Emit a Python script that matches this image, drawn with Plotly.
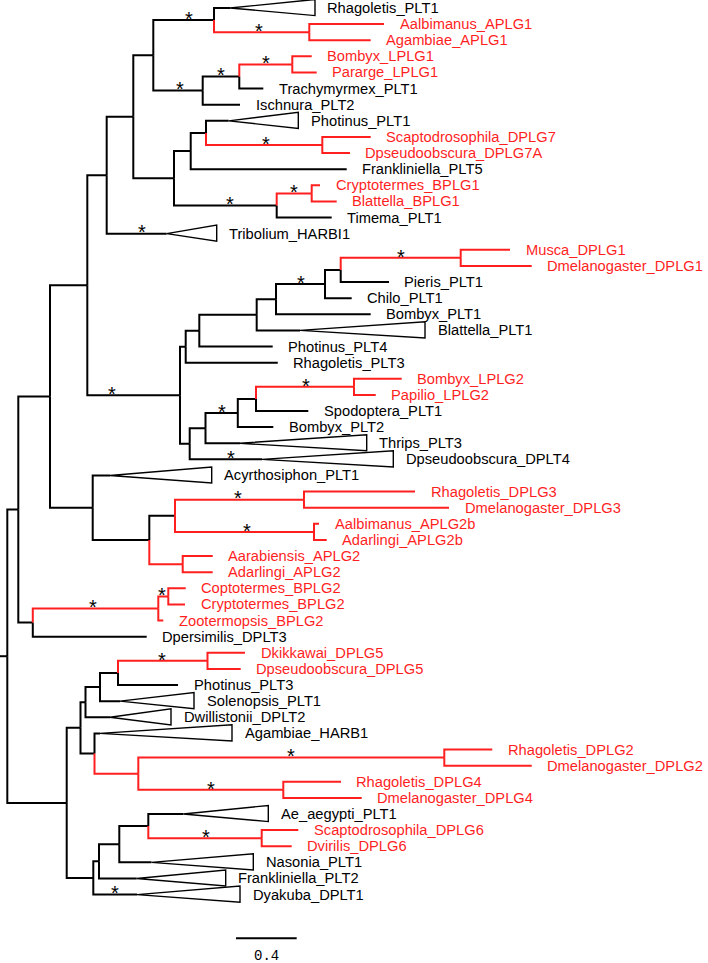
import plotly.graph_objects as go

# ---------------- data (branch depths in substitutions/site) -------------
# internal nodes (parents listed before children)
node_names = ["R", "N1", "N2", "N3", "N4", "N5", "N6", "N7", "N8", "N9", "N10", "N11",
              "N15", "N19", "N16", "N17", "N18", "N12", "N13", "NS7", "N14", "NB1",
              "N20", "N27", "N28", "N29", "N30", "N31", "N21", "N22", "N23", "N24", "N25", "N26",
              "N33", "N32", "N34", "N35", "N36", "NB2", "NCT",
              "N37", "N38", "N39", "N40", "N41", "N42", "N43", "N44", "N45",
              "N46", "N47", "N48", "N49", "N50"]
node_parents = [None, "R", "R", "N1", "N1", "N3", "N3", "N5", "N5", "N7", "N9", "N9",
                "N10", "N15", "N10", "N16", "N17", "N11", "N12", "N13", "N11", "N14",
                "N8", "N20", "N27", "N28", "N29", "N30", "N31", "N8", "N22", "N23", "N24", "N25",
                "N6", "N33", "N32", "N32", "N33", "N4", "NB2",
                "N2", "N37", "N38", "N39", "N40", "N37", "N42", "N43", "N43",
                "N2", "N46", "N47", "N48", "N49"]
node_depths = [0.0, 0.0725, 0.3916, 0.2815, 0.168, 0.5274, 0.563, 0.6552, 1.1384, 0.8306, 0.9624, 1.0989,
               1.3626, 1.9908, 1.2881, 1.5293, 1.8787, 1.209, 1.3098, 2.0765, 1.7759, 2.0066,
               1.176, 1.2657, 1.644, 1.7713, 2.0943, 2.1978, 2.9888, 1.2024, 1.3065, 1.5194, 1.6394, 2.2854,
               0.9361, 1.1055, 1.9558, 2.0218, 1.1563, 0.9954, 1.0613,
               0.4825, 0.5155, 0.6111, 0.7297, 1.3197, 0.5748, 0.8636, 2.8807, 1.8194,
               0.5669, 0.6045, 0.7383, 0.9295, 1.677]
node_red = [0, 0, 0, 0, 0, 0, 0, 0, 0, 0, 0, 0,
            0, 1, 0, 0, 1, 0, 0, 1, 0, 1,
            0, 0, 0, 0, 0, 0, 1, 0, 0, 0, 0, 1,
            0, 0, 1, 1, 1, 1, 1,
            0, 0, 0, 0, 1, 0, 1, 1, 1,
            0, 0, 0, 0, 1]

# leaves, top to bottom
leaf_labels = ["Rhagoletis_PLT1", "Aalbimanus_APLG1", "Agambiae_APLG1", "Bombyx_LPLG1", "Pararge_LPLG1",
               "Trachymyrmex_PLT1", "Ischnura_PLT2", "Photinus_PLT1", "Scaptodrosophila_DPLG7",
               "Dpseudoobscura_DPLG7A", "Frankliniella_PLT5", "Cryptotermes_BPLG1", "Blattella_BPLG1",
               "Timema_PLT1", "Tribolium_HARBI1", "Musca_DPLG1", "Dmelanogaster_DPLG1", "Pieris_PLT1",
               "Chilo_PLT1", "Bombyx_PLT1", "Blattella_PLT1", "Photinus_PLT4", "Rhagoletis_PLT3",
               "Bombyx_LPLG2", "Papilio_LPLG2", "Spodoptera_PLT1", "Bombyx_PLT2", "Thrips_PLT3",
               "Dpseudoobscura_DPLT4", "Acyrthosiphon_PLT1", "Rhagoletis_DPLG3", "Dmelanogaster_DPLG3",
               "Aalbimanus_APLG2b", "Adarlingi_APLG2b", "Aarabiensis_APLG2", "Adarlingi_APLG2",
               "Coptotermes_BPLG2", "Cryptotermes_BPLG2", "Zootermopsis_BPLG2", "Dpersimilis_DPLT3",
               "Dkikkawai_DPLG5", "Dpseudoobscura_DPLG5", "Photinus_PLT3", "Solenopsis_PLT1",
               "Dwillistonii_DPLT2", "Agambiae_HARB1", "Rhagoletis_DPLG2", "Dmelanogaster_DPLG2",
               "Rhagoletis_DPLG4", "Dmelanogaster_DPLG4", "Ae_aegypti_PLT1", "Scaptodrosophila_DPLG6",
               "Dvirilis_DPLG6", "Nasonia_PLT1", "Frankliniella_PLT2", "Dyakuba_DPLT1"]
leaf_parents = ["N15", "N19", "N19", "N18", "N18", "N17", "N16", "N13", "NS7", "NS7", "N12", "NB1", "NB1",
                "N14", "N7", "N21", "N21", "N31", "N30", "N29", "N28", "N27", "N20", "N26", "N26", "N25",
                "N24", "N23", "N22", "N6", "N34", "N34", "N35", "N35", "N36", "N36", "NCT", "NCT", "NB2",
                "N4", "N41", "N41", "N40", "N39", "N38", "N42", "N44", "N44", "N45", "N45", "N49",
                "N50", "N50", "N48", "N47", "N46"]
# tip depth, or apex depth of a collapsed clade
leaf_depths = [1.468, 2.4832, 2.3955, 2.0066, 2.0396, 1.6876, 1.534, 1.4595, 2.3955, 2.259, 2.2373,
               2.0613, 2.1714, 2.1384, 1.0508, 3.3138, 3.4568, 2.5161, 2.2703, 2.3955, 1.9295, 1.7495,
               1.783, 2.5999, 2.4285, 1.9842, 1.7535, 1.534, 1.679, 0.677, 2.6876, 2.9117, 2.0547,
               2.1055, 1.354, 1.354, 1.176, 1.1714, 1.0283, 0.9189, 1.5669, 1.5386, 1.1253, 0.743,
               0.677, 0.611, 3.1971, 3.4568, 2.1997, 2.3362, 1.16, 1.9183, 1.8747, 0.95, 0.853, 0.855]
leaf_red = [0, 1, 1, 1, 1, 0, 0, 0, 1, 1, 0, 1, 1, 0, 0, 1, 1, 0, 0, 0, 0, 0, 0, 1, 1, 0, 0, 0, 0, 0,
            1, 1, 1, 1, 1, 1, 1, 1, 1, 0, 1, 1, 0, 0, 0, 0, 1, 1, 1, 1, 0, 1, 1, 0, 0, 0]
# right edge depth of collapsed-clade triangles
clade_edge = {"Rhagoletis_PLT1": 2.0283, "Photinus_PLT1": 1.9183, "Tribolium_HARBI1": 1.3804,
              "Blattella_PLT1": 2.7535, "Thrips_PLT3": 2.3692, "Dpseudoobscura_DPLT4": 2.5445,
              "Acyrthosiphon_PLT1": 1.3474, "Solenopsis_PLT1": 1.2307, "Dwillistonii_DPLT2": 1.0791,
              "Agambiae_HARB1": 1.4812, "Ae_aegypti_PLT1": 1.7205, "Nasonia_PLT1": 1.6216,
              "Frankliniella_PLT2": 1.4397, "Dyakuba_DPLT1": 1.534}

# supported branches (asterisk) and position of the asterisk along the branch
star_branches = ["N15", "N19", "N16", "N17", "N18", "NS7", "N14", "NB1", "Tribolium_HARBI1", "N8",
                 "N30", "N21", "N24", "N26", "Dpseudoobscura_DPLT4", "N34", "N35", "NB2", "NCT",
                 "N41", "N44", "N45", "N50", "Dyakuba_DPLT1"]
star_fracs = [0.58, 0.475, 0.54, 0.49, 0.5, 0.52, 0.545, 0.5, 0.58, 0.27,
              0.51, 0.5, 0.52, 0.515, 0.567, 0.49, 0.52, 0.48, 0.4,
              0.49, 0.5, 0.5, 0.51, 0.5]

scale_bar_length = 0.4

# ---------------- layout constants ----------------
W, H = 708, 963
X0_PX, PX_PER_UNIT = 7.3, 151.7
Y0_PX, PX_PER_LEAF = 8.0, 16.12
RED = "#ff1f1f"
BLACK = "#000000"
FONT = "Liberation Sans, Arial, Helvetica, sans-serif"

# ---------------- tree geometry ----------------
parent = dict(zip(node_names, node_parents))
parent.update(dict(zip(leaf_labels, leaf_parents)))
depth = dict(zip(node_names, node_depths))
depth.update(dict(zip(leaf_labels, leaf_depths)))
red = dict(zip(node_names, node_red))
red.update(dict(zip(leaf_labels, leaf_red)))

ypos = {name: float(i) for i, name in enumerate(leaf_labels)}
children = {n: [] for n in node_names}
for n in node_names[1:] + leaf_labels:
    children[parent[n]].append(n)
for n in reversed(node_names):
    ys = [ypos[c] for c in children[n] if c in ypos]
    ypos[n] = (min(ys) + max(ys)) / 2.0

seg = {0: ([], []), 1: ([], [])}
for n in node_names[1:] + leaf_labels:
    p = parent[n]
    xs, ys = seg[red[n]]
    xs += [depth[p], depth[p], depth[n], None]
    ys += [ypos[p], ypos[n], ypos[n], None]

# root stub
seg[0][0].extend([-0.06, 0.0, None])
seg[0][1].extend([ypos["R"], ypos["R"], None])

tri_x, tri_y = [], []
for name, edge in clade_edge.items():
    y = ypos[name]
    a = depth[name]
    tri_x += [a, edge, edge, a, None]
    tri_y += [y, y - 0.53, y + 0.47, y, None]

fig = go.Figure()
for flag, col in ((0, BLACK), (1, RED)):
    fig.add_trace(go.Scatter(x=seg[flag][0], y=seg[flag][1], mode="lines",
                             line=dict(color=col, width=2), hoverinfo="skip"))
fig.add_trace(go.Scatter(x=tri_x, y=tri_y, mode="lines",
                         line=dict(color=BLACK, width=1.4), hoverinfo="skip"))

annotations = []
for name in leaf_labels:
    if name in clade_edge:
        lx = clade_edge[name] + 10.5 / PX_PER_UNIT
    else:
        lx = depth[name] + 13.5 / PX_PER_UNIT
    annotations.append(dict(x=lx, y=ypos[name], text=name, showarrow=False,
                            xanchor="left", yanchor="middle",
                            font=dict(family=FONT, size=14.7, color=RED if red[name] else BLACK)))

for name, f in zip(star_branches, star_fracs):
    p = parent[name]
    sx = depth[p] + f * (depth[name] - depth[p])
    annotations.append(dict(x=sx, y=ypos[name] - 0.08, text="*", showarrow=False,
                            xanchor="center", yanchor="middle",
                            font=dict(family=FONT, size=20, color=BLACK)))

# scale bar
sb_x0 = 1.5076
sb_y = 57.71
fig.add_trace(go.Scatter(x=[sb_x0, sb_x0 + scale_bar_length], y=[sb_y, sb_y], mode="lines",
                         line=dict(color=BLACK, width=2), hoverinfo="skip"))
annotations.append(dict(x=sb_x0 + scale_bar_length / 2, y=sb_y + 1.12, text=str(scale_bar_length),
                        showarrow=False, xanchor="center", yanchor="middle",
                        font=dict(family="Liberation Mono, DejaVu Sans Mono, monospace", size=14,
                                  color=BLACK)))

x_lo = -X0_PX / PX_PER_UNIT
x_hi = (W - X0_PX) / PX_PER_UNIT
y_top = -Y0_PX / PX_PER_LEAF
y_bot = (H - Y0_PX) / PX_PER_LEAF

fig.update_layout(
    width=W, height=H, margin=dict(l=0, r=0, t=0, b=0),
    paper_bgcolor="white", plot_bgcolor="white", showlegend=False,
    xaxis=dict(range=[x_lo, x_hi], visible=False, fixedrange=True),
    yaxis=dict(range=[y_bot, y_top], visible=False, fixedrange=True),
    annotations=annotations,
)
fig.write_html("out.html", config={"displayModeBar": False},
               post_script="document.body.style.margin='0';document.body.style.overflow='hidden';")
